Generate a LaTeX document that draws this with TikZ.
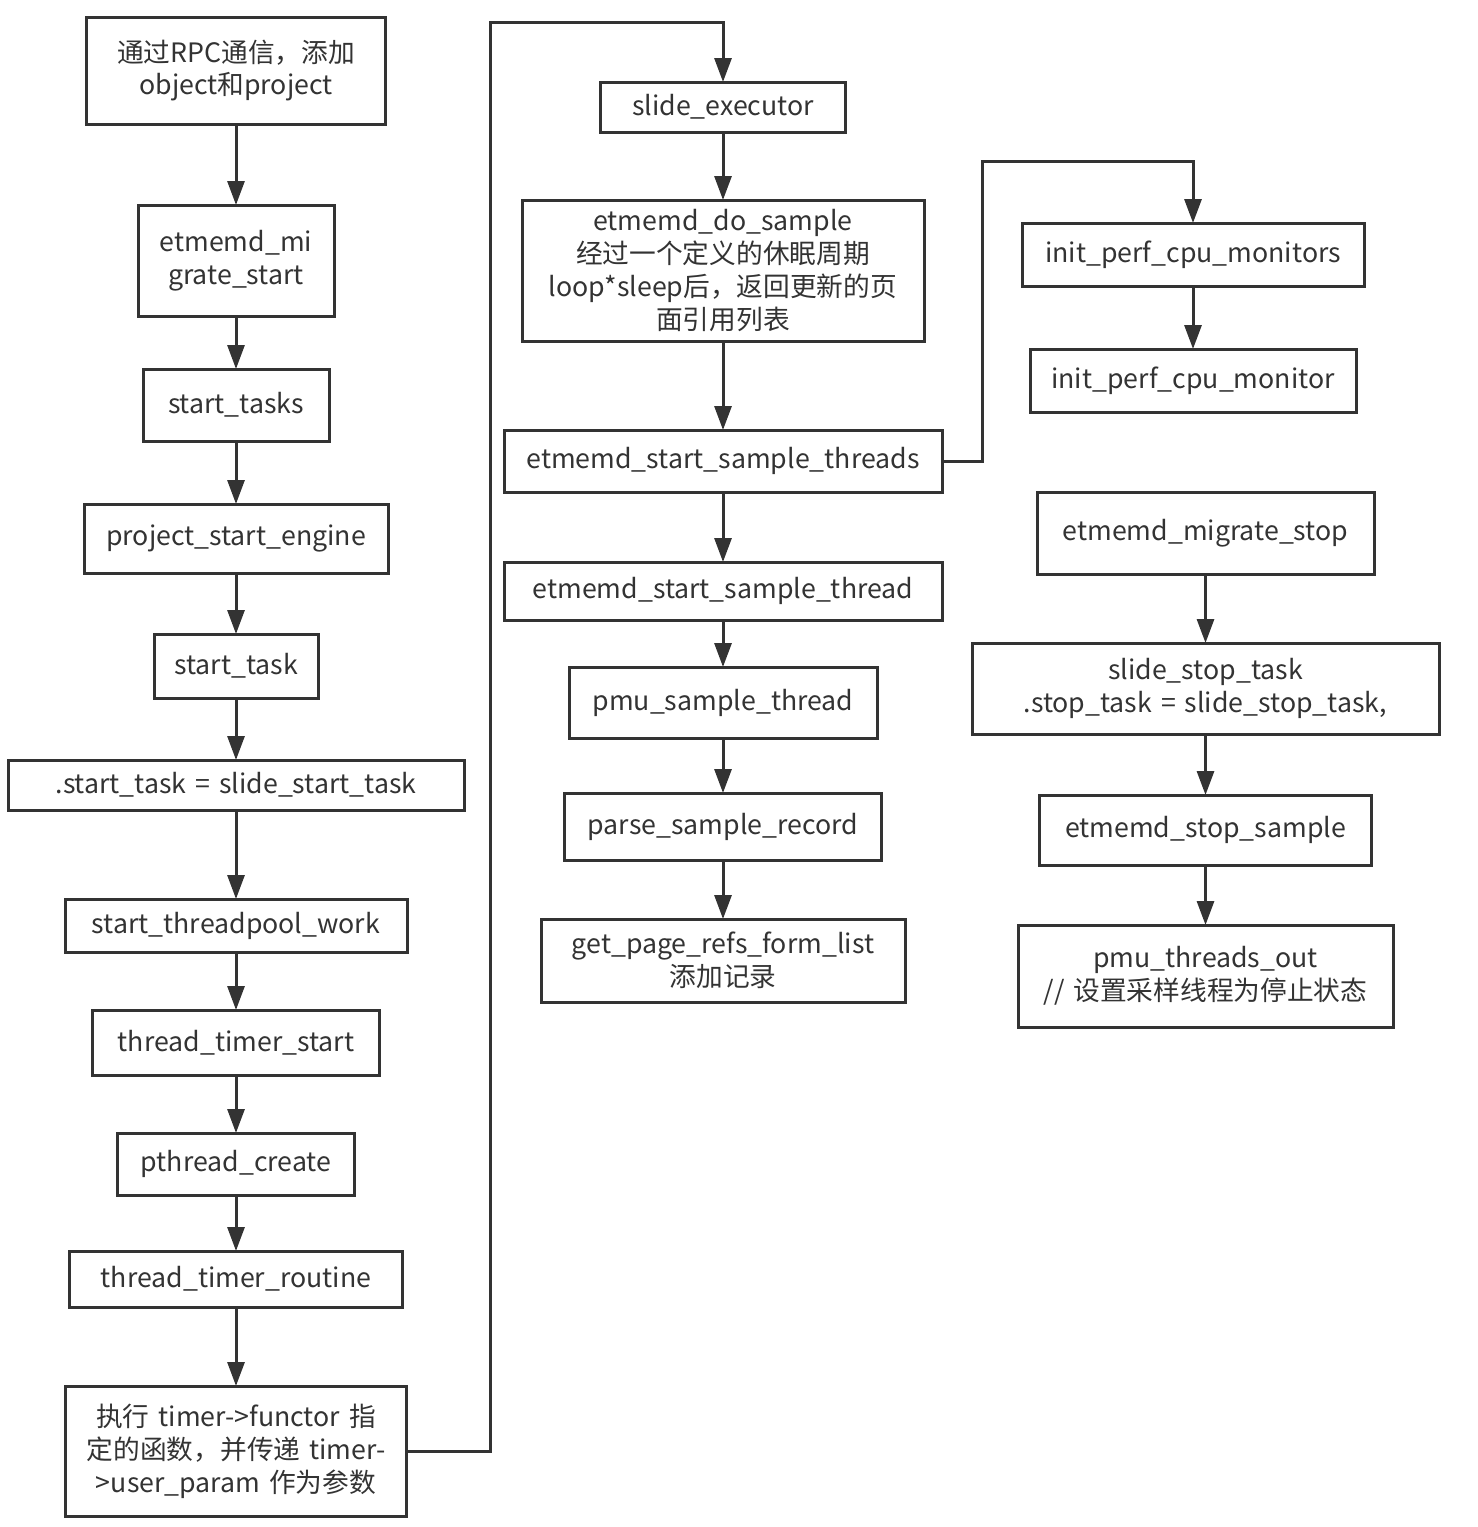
\documentclass[tikz,border=0pt]{standalone}
\usepackage{fontspec}
\setmainfont[WordSpace=1.5]{Noto Sans CJK SC}
\definecolor{linegray}{HTML}{333333}
\usetikzlibrary{arrows.meta,positioning}

\begin{document}
\begin{tikzpicture}[
    box/.style={draw=linegray,line width=0.6mm,text=linegray,inner sep=0pt,outer sep=0pt,align=center,font=\fontsize{15.2}{18.7}\selectfont},
    arr/.style={-{Triangle[length=4.8mm,width=3.4mm]},line width=0.6mm,linegray}]
  \useasboundingbox (0,0) rectangle (29.56,-30.54);
  % left column: start path
  \node[box,anchor=north,minimum width=5.98cm,minimum height=2.14cm] (rpc) at (4.72,-0.34) {通过RPC通信，添加\\object和project};
  \node[box,below=1.62cm of rpc,minimum width=3.92cm,minimum height=2.22cm] (migstart) {etmemd\_mi\\grate\_start};
  \node[box,below=1.06cm of migstart,minimum width=3.72cm,minimum height=1.44cm] (starttasks) {start\_tasks};
  \node[box,below=1.26cm of starttasks,minimum width=6.08cm,minimum height=1.38cm] (engine) {project\_start\_engine};
  \node[box,below=1.22cm of engine,minimum width=3.28cm,minimum height=1.28cm] (starttask) {start\_task};
  \node[box,below=1.24cm of starttask,minimum width=9.12cm,minimum height=1.0cm] (slidestart) {.start\_task = slide\_start\_task};
  \node[box,below=1.78cm of slidestart,minimum width=6.84cm,minimum height=1.06cm] (poolwork) {start\_threadpool\_work};
  \node[box,below=1.16cm of poolwork,minimum width=5.74cm,minimum height=1.30cm] (timerstart) {thread\_timer\_start};
  \node[box,below=1.16cm of timerstart,minimum width=4.74cm,minimum height=1.24cm] (pcreate) {pthread\_create};
  \node[box,below=1.12cm of pcreate,minimum width=6.66cm,minimum height=1.12cm] (routine) {thread\_timer\_routine};
  \node[box,below=1.58cm of routine,minimum width=6.82cm,minimum height=2.60cm] (functor) {执行 timer->functor 指\\定的函数，并传递 timer-\\>user\_param 作为参数};
  % middle column: sampling
  \node[box,anchor=north,minimum width=4.90cm,minimum height=1.0cm] (executor) at (14.46,-1.64) {slide\_executor};
  \node[box,below=1.36cm of executor,minimum width=8.04cm,minimum height=2.82cm] (dosample) {etmemd\_do\_sample\\经过一个定义的休眠周期\\loop*sleep后，返回更新的页\\面引用列表};
  \node[box,below=1.78cm of dosample,minimum width=8.76cm,minimum height=1.24cm] (threads) {etmemd\_start\_sample\_threads};
  \node[box,below=1.40cm of threads,minimum width=8.76cm,minimum height=1.16cm] (onethread) {etmemd\_start\_sample\_thread};
  \node[box,below=0.94cm of onethread,minimum width=6.16cm,minimum height=1.42cm] (pmuthread) {pmu\_sample\_thread};
  \node[box,below=1.10cm of pmuthread,minimum width=6.34cm,minimum height=1.34cm] (parse) {parse\_sample\_record};
  \node[box,below=1.18cm of parse,minimum width=7.28cm,minimum height=1.66cm] (getrefs) {get\_page\_refs\_form\_list\\添加记录};
  % right column: monitors and stop path
  \node[box,anchor=north,minimum width=6.84cm,minimum height=1.26cm] (monitors) at (23.86,-4.46) {init\_perf\_cpu\_monitors};
  \node[box,below=1.26cm of monitors,minimum width=6.52cm,minimum height=1.26cm] (monitor) {init\_perf\_cpu\_monitor};
  \node[box,anchor=north,minimum width=6.74cm,minimum height=1.64cm] (migstop) at (24.11,-9.84) {etmemd\_migrate\_stop};
  \node[box,below=1.38cm of migstop,minimum width=9.34cm,minimum height=1.82cm] (stoptask) {slide\_stop\_task\\.stop\_task = slide\_stop\_task,};
  \node[box,below=1.22cm of stoptask,minimum width=6.64cm,minimum height=1.40cm] (stopsample) {etmemd\_stop\_sample};
  \node[box,below=1.20cm of stopsample,minimum width=7.50cm,minimum height=2.04cm] (threadsout) {pmu\_threads\_out\\// 设置采样线程为停止状态};
  % connectors
  \draw[arr] (rpc)--(migstart); \draw[arr] (migstart)--(starttasks); \draw[arr] (starttasks)--(engine);
  \draw[arr] (engine)--(starttask); \draw[arr] (starttask)--(slidestart); \draw[arr] (slidestart)--(poolwork);
  \draw[arr] (poolwork)--(timerstart); \draw[arr] (timerstart)--(pcreate); \draw[arr] (pcreate)--(routine);
  \draw[arr] (routine)--(functor);
  \coordinate (bendA) at (9.80,-0.44);
  \draw[arr] (functor.east) -| (bendA) -| (executor.north);
  \draw[arr] (executor)--(dosample); \draw[arr] (dosample)--(threads); \draw[arr] (threads)--(onethread);
  \draw[arr] (onethread)--(pmuthread); \draw[arr] (pmuthread)--(parse); \draw[arr] (parse)--(getrefs);
  \coordinate (bendB) at (19.64,-3.22);
  \draw[arr] (threads.east) -| (bendB) -| (monitors.north);
  \draw[arr] (monitors)--(monitor);
  \draw[arr] (migstop)--(stoptask); \draw[arr] (stoptask)--(stopsample); \draw[arr] (stopsample)--(threadsout);
\end{tikzpicture}
\end{document}
